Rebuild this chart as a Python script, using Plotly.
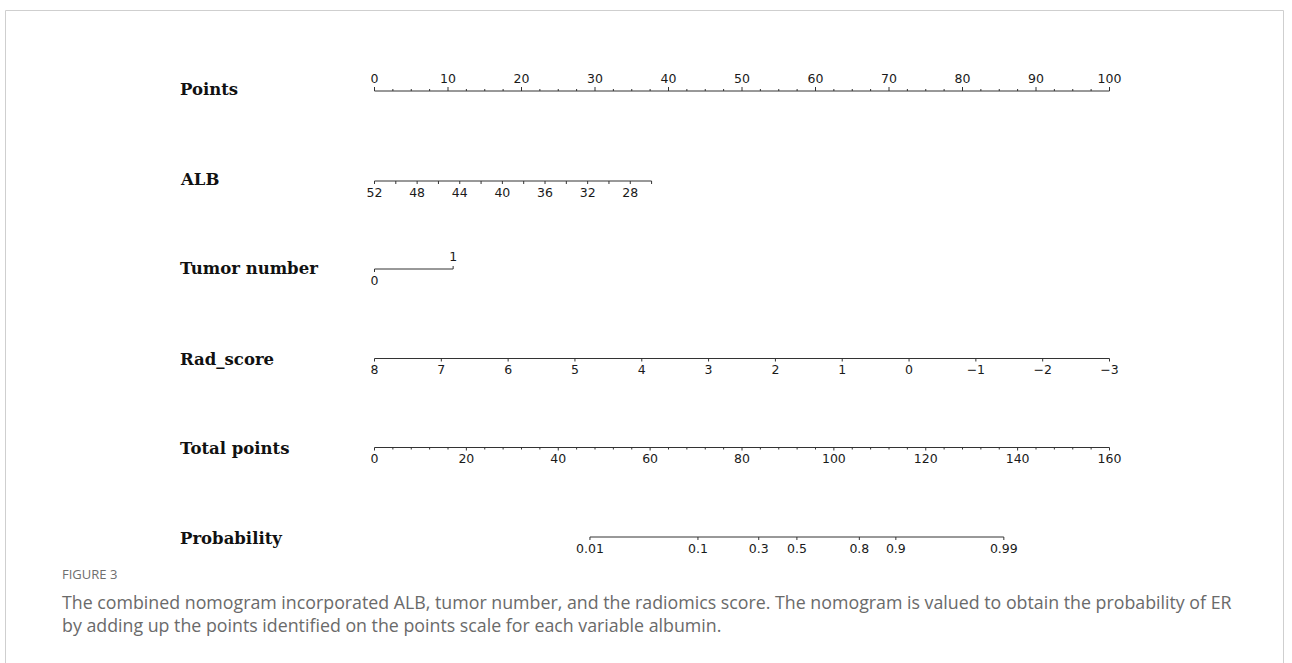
import math
import plotly.graph_objects as go

# ---------------- nomogram model ----------------
# Points scale (0-100), labelled every 10, minor ticks every 2.5
points_labels = [0, 10, 20, 30, 40, 50, 60, 70, 80, 90, 100]
points_minor_step = 2.5

# ALB: scale runs 52 -> 26 in steps of 2, labelled every 4
alb_values = [52, 50, 48, 46, 44, 42, 40, 38, 36, 34, 32, 30, 28, 26]
alb_labels = [52, 48, 44, 40, 36, 32, 28]
alb_points_per_unit = 1.45

# Tumor number: two levels and their points
tumor_values = [0, 1]
tumor_points = [0.0, 10.7]

# Rad_score: 8 -> -3 spans the full 100 points
rad_values = [8, 7, 6, 5, 4, 3, 2, 1, 0, -1, -2, -3]
rad_points_per_unit = 100 / 11

# Total points scale 0-160, labelled every 20, minor ticks every 4
total_labels = [0, 20, 40, 60, 80, 100, 120, 140, 160]
total_minor_step = 4
total_max = 160

# Probability of ER from total points (logistic)
prob_labels = [0.01, 0.1, 0.3, 0.5, 0.8, 0.9, 0.99]
prob_label_text = ["0.01", "0.1", "0.3", "0.5", "0.8", "0.9", "0.99"]
prob_mid_total = 91.95
prob_slope = 0.102

row_names = ["Points", "ALB", "Tumor number", "Rad_score", "Total points", "Probability"]

# ---------------- layout constants ----------------
W, H = 1292, 663
PX0, PX_PER_PT = 374.5, 7.35            # pixel of 0 points, pixels per point
ROW_Y = [91, 181, 269, 358.5, 447.5, 537]
LABEL_Y = [89, 179, 268, 359, 448, 538]
LINE_COL = "#333333"
TXT_COL = "#1a1a1a"
TICK_FONT = dict(family="DejaVu Sans", size=12.5, color=TXT_COL)
BELOW = 12.5   # offset of labels placed under an axis line
ABOVE = 11     # offset of labels placed over an axis line

fig = go.Figure()


def add_segments(xs, ys):
    fig.add_trace(go.Scatter(x=xs, y=ys, mode="lines",
                             line=dict(color=LINE_COL, width=1),
                             hoverinfo="skip", showlegend=False))


def add_axis(y, p_start, p_end, ticks):
    """ticks: list of (points, length, direction) with direction -1 up, +1 down."""
    xs, ys = [p_start, p_end, None], [y, y, None]
    for p, ln, d in ticks:
        xs += [p, p, None]
        ys += [y, y + d * ln, None]
    add_segments(xs, ys)


def add_labels(xs, y, texts):
    fig.add_trace(go.Scatter(x=xs, y=[y] * len(xs), mode="text", text=texts,
                             textposition="middle center", textfont=TICK_FONT,
                             hoverinfo="skip", showlegend=False))


# Points
y = ROW_Y[0]
n_minor = int(round(100 / points_minor_step))
ticks = []
for i in range(n_minor + 1):
    p = i * points_minor_step
    major = any(abs(p - m) < 1e-9 for m in points_labels)
    ticks.append((p, 4 if major else 2, -1))
add_axis(y, 0, 100, ticks)
add_labels(points_labels, y - ABOVE, [str(v) for v in points_labels])

# ALB
y = ROW_Y[1]
alb_pts = [(52 - v) * alb_points_per_unit for v in alb_values]
add_axis(y, alb_pts[0], alb_pts[-1], [(p, 3, 1) for p in alb_pts])
add_labels([(52 - v) * alb_points_per_unit for v in alb_labels], y + BELOW,
           [str(v) for v in alb_labels])

# Tumor number
y = ROW_Y[2]
add_axis(y, tumor_points[0], tumor_points[1],
         [(tumor_points[0], 3, 1), (tumor_points[1], 3, -1)])
add_labels([tumor_points[0]], y + BELOW, [str(tumor_values[0])])
add_labels([tumor_points[1]], y - ABOVE, [str(tumor_values[1])])

# Rad_score
y = ROW_Y[3]
rad_pts = [(8 - v) * rad_points_per_unit for v in rad_values]
add_axis(y, rad_pts[0], rad_pts[-1], [(p, 3, 1) for p in rad_pts])
add_labels(rad_pts, y + BELOW, [str(v).replace("-", "\u2212") for v in rad_values])

# Total points
y = ROW_Y[4]
scale = 100 / total_max
ticks = []
for i in range(int(total_max / total_minor_step) + 1):
    t = i * total_minor_step
    major = t in total_labels
    ticks.append((t * scale, 3 if major else 2, 1))
add_axis(y, 0, total_max * scale, ticks)
add_labels([t * scale for t in total_labels], y + BELOW, [str(t) for t in total_labels])

# Probability
y = ROW_Y[5]
prob_pts = [(prob_mid_total + math.log(p / (1 - p)) / prob_slope) * scale
            for p in prob_labels]
add_axis(y, prob_pts[0], prob_pts[-1], [(p, 3, 1) for p in prob_pts])
add_labels(prob_pts, y + BELOW, prob_label_text)

# Row titles
for name, ly in zip(row_names, LABEL_Y):
    fig.add_annotation(x=178 / W, y=ly, xref="paper", yref="y", text=name,
                       showarrow=False, xanchor="left", yanchor="middle",
                       font=dict(family="DejaVu Serif", size=16.5, color="#111111",
                                 weight="bold"))

# Caption
fig.add_annotation(x=60 / W, y=574, xref="paper", yref="y", text="FIGURE 3",
                   showarrow=False, xanchor="left", yanchor="middle",
                   font=dict(family="Open Sans", size=13, color="#6e6e6e"))
caption = ["The combined nomogram incorporated ALB, tumor number, and the radiomics score. "
           "The nomogram is valued to obtain the probability of ER",
           "by adding up the points identified on the points scale for each variable albumin."]
for line, cy in zip(caption, [602, 625]):
    fig.add_annotation(x=60 / W, y=cy, xref="paper", yref="y", text=line,
                       showarrow=False, xanchor="left", yanchor="middle",
                       font=dict(family="Open Sans", size=17.8, color="#6a6a6a"))

# Frame around the figure panel
fig.add_shape(type="rect", xref="paper", yref="paper",
              x0=5.5 / W, x1=1283.5 / W, y0=-0.2, y1=1 - 10.5 / H,
              line=dict(color="#cfcfcf", width=1), fillcolor="rgba(0,0,0,0)")

fig.update_layout(
    width=W, height=H,
    margin=dict(l=0, r=0, t=0, b=0),
    paper_bgcolor="white", plot_bgcolor="white",
    showlegend=False,
    xaxis=dict(range=[-PX0 / PX_PER_PT, (W - PX0) / PX_PER_PT], visible=False,
               fixedrange=True),
    yaxis=dict(range=[H, 0], visible=False, fixedrange=True),
)

fig.write_html("out.html")
